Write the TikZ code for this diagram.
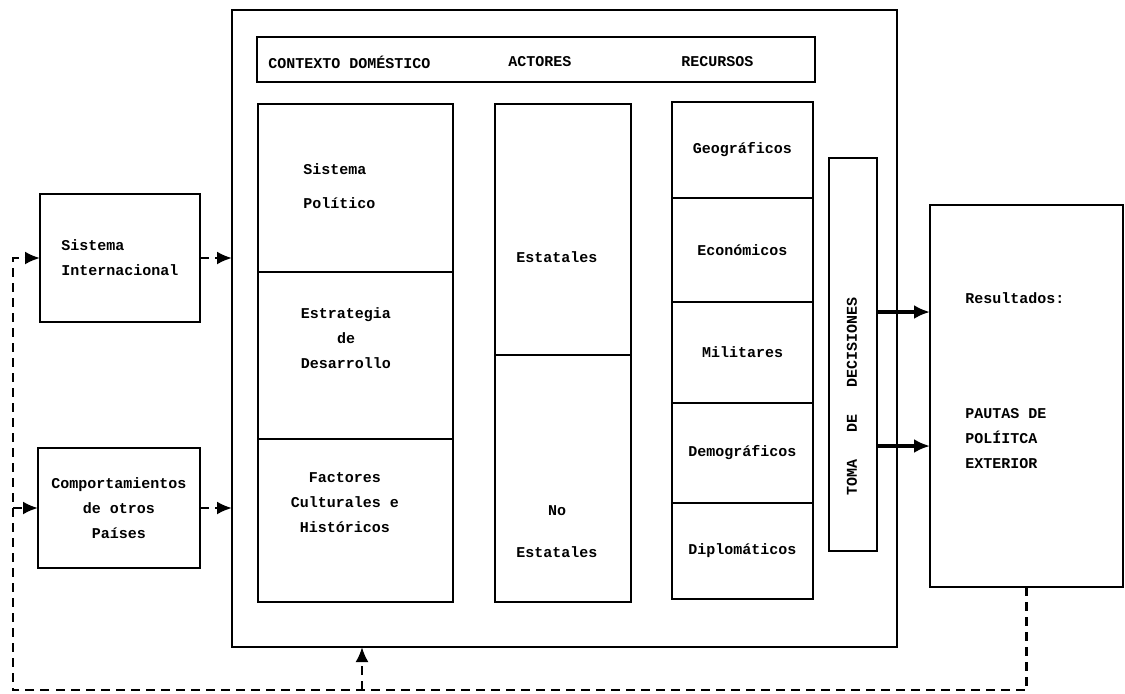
\documentclass[tikz,border=0pt]{standalone}
\usepackage{fontspec}
\setmonofont{Liberation Mono}
\usetikzlibrary{arrows.meta,positioning}

\begin{document}
\begin{tikzpicture}[x=0.5pt, y=-0.5pt,
    blk/.style={draw, line width=1.3pt, inner sep=0pt, outer sep=0pt, anchor=north west},
    txt/.style={inner sep=0pt, font=\ttfamily\bfseries\fontsize{7.5}{12.5}\selectfont},
    flow/.style={-{Latex[length=7.5pt,width=6.5pt]}, dash pattern=on 4.5pt off 3pt, line width=1.2pt},
    uses/.style={-{Latex[length=8pt,width=7pt]}, line width=1.6pt}]

\useasboundingbox (0,0) rectangle (1125,693);

% domestic context frame
\node[blk, minimum width=332.5pt, minimum height=318.5pt] (frame) at (232,10) {};
\node[blk, minimum width=279pt, minimum height=22.5pt] (hdr) at (257,37) {};
\node[txt, anchor=west] (hctx) at (268,62) {CONTEXTO DOMÉSTICO};
\node[txt, anchor=west] (hact) at (508,62) {ACTORES};
\node[txt, anchor=west] (hrec) at (681,62) {RECURSOS};

% contexto domestico
\node[blk, minimum width=97.5pt, minimum height=84pt] (ctx1) at (258,104) {};
\node[blk, minimum width=97.5pt, minimum height=83.5pt] (ctx2) at (258,272) {};
\node[blk, minimum width=97.5pt, minimum height=81.5pt] (ctx3) at (258,439) {};
\node[txt, align=left, anchor=west] (tpol) at (303,186) {Sistema\\[4.5pt]Político};
\node[txt, align=center] (test) at (346,338) {Estrategia\\de\\Desarrollo};
\node[txt, align=center] (tcul) at (345,503) {Factores\\Culturales e\\Históricos};

% actores
\node[blk, minimum width=68pt, minimum height=125.5pt] (act1) at (495,104) {};
\node[blk, minimum width=68pt, minimum height=123.5pt] (act2) at (495,355) {};
\node[txt] (test1) at (557,257) {Estatales};
\node[txt, align=center] (test2) at (557,532) {No\\[8.5pt]Estatales};

% recursos
\node[blk, txt, minimum width=70.5pt, minimum height=48pt] (rec1) at (672,102) {Geográficos};
\node[blk, txt, minimum width=70.5pt, minimum height=52pt] (rec2) at (672,198) {Económicos};
\node[blk, txt, minimum width=70.5pt, minimum height=50.5pt] (rec3) at (672,302) {Militares};
\node[blk, txt, minimum width=70.5pt, minimum height=50pt] (rec4) at (672,403) {Demográficos};
\node[blk, txt, minimum width=70.5pt, minimum height=48pt] (rec5) at (672,503) {Diplomáticos};

% toma de decisiones
\node[blk, minimum width=24pt, minimum height=196.5pt] (toma) at (829,158) {};
\node[txt, rotate=90] (ttoma) at (852,396) {TOMA~~~DE~~~DECISIONES};

% resultados
\node[blk, minimum width=96.5pt, minimum height=191pt] (res) at (930,205) {};
\node[txt, align=left, anchor=west] (tres) at (965,381) {Resultados:\\[45pt]PAUTAS DE\\POLÍITCA\\EXTERIOR};

% external inputs
\node[blk, txt, align=left, minimum width=80pt, minimum height=64pt] (sint) at (40,194) {Sistema\\Internacional};
\node[blk, txt, align=center, minimum width=81pt, minimum height=60pt] (comp) at (38,448) {Comportamientos\\de otros\\Países};

\draw[flow] (sint.east) -- (sint.east -| frame.west);
\draw[flow] (comp.east) -- (comp.east -| frame.west);
\draw[uses] ([yshift=21.25pt]toma.east) -- ([yshift=21.25pt]toma.east -| res.west);
\draw[uses] ([yshift=-45.75pt]toma.east) -- ([yshift=-45.75pt]toma.east -| res.west);

% feedback
\coordinate (bl) at (13,690);
\coordinate (up) at (362,690);
\draw[flow] (res.south) |- (bl) |- (sint.west);
\draw[flow] (bl |- comp.west) -- (comp.west);
\draw[flow] (up) -- (up |- frame.south);
\end{tikzpicture}
\end{document}
